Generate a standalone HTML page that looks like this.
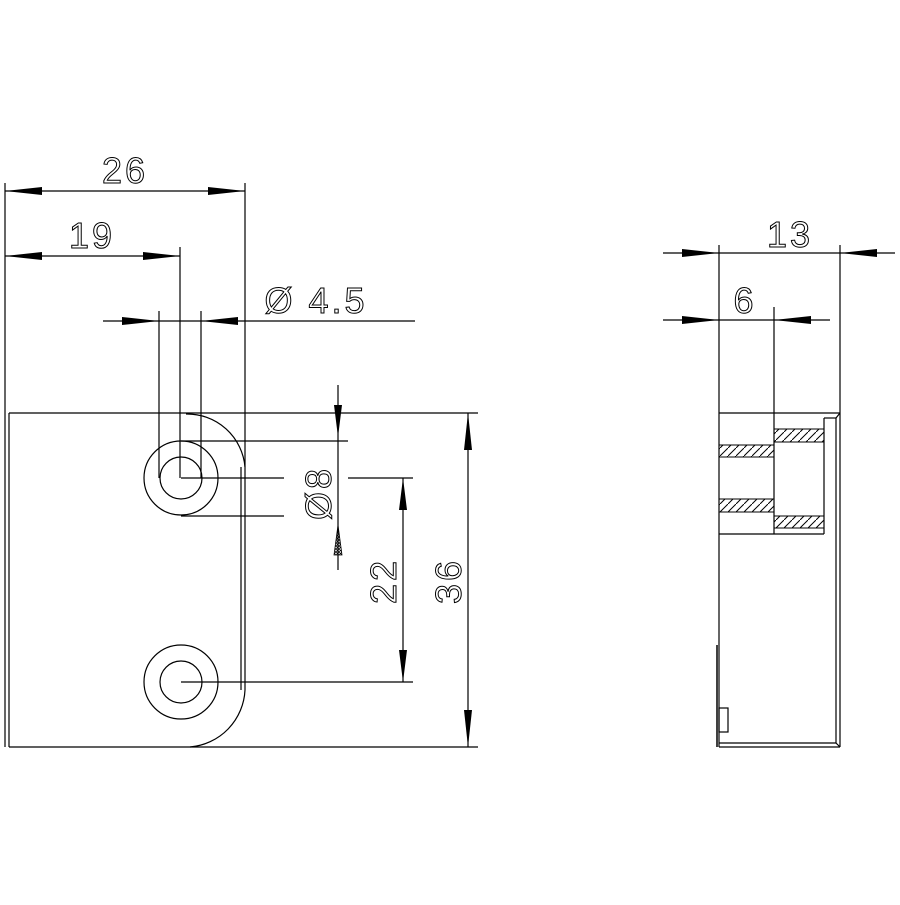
<!DOCTYPE html>
<html><head><meta charset="utf-8"><style>html,body{margin:0;padding:0;background:#fff}</style></head><body>
<svg width="900" height="900" viewBox="0 0 900 900" xmlns="http://www.w3.org/2000/svg">
<defs>
<pattern id="h" width="8" height="8" patternUnits="userSpaceOnUse"><path d="M0 8L8 0" stroke="#000" stroke-width="1"/></pattern>
<pattern id="x" width="3" height="3" patternUnits="userSpaceOnUse"><path d="M0 0L3 3M3 0L0 3" stroke="#000" stroke-width="0.7"/></pattern>
</defs>
<g fill="none" stroke="#000" stroke-width="1.2">
<line x1="5" y1="183" x2="5" y2="747"/>
<line x1="9" y1="413" x2="9" y2="747"/>
<line x1="9" y1="413" x2="478" y2="413"/>
<line x1="9" y1="747" x2="478" y2="747"/>
<line x1="245" y1="183" x2="245" y2="690"/>
<line x1="241" y1="467" x2="241" y2="690"/>
<path d="M186 414 A58 58 0 0 1 245 467"/>
<path d="M245 690 A60 60 0 0 1 190 747"/>
<circle cx="181" cy="478" r="37"/><circle cx="181" cy="478" r="21"/>
<circle cx="181" cy="682" r="37"/><circle cx="181" cy="682" r="21"/>
<line x1="5" y1="191" x2="245" y2="191"/>
<line x1="5" y1="256" x2="180" y2="256"/>
<line x1="180" y1="247" x2="180" y2="478"/>
<line x1="103" y1="321" x2="415" y2="321"/>
<line x1="159" y1="311" x2="159" y2="478"/>
<line x1="201" y1="311" x2="201" y2="478"/>
<line x1="338" y1="385" x2="338" y2="570"/>
<line x1="181" y1="441" x2="348" y2="441"/>
<line x1="181" y1="516" x2="284" y2="516"/>
<line x1="181" y1="478" x2="284" y2="478"/>
<line x1="348" y1="478" x2="413" y2="478"/>
<line x1="181" y1="682" x2="413" y2="682"/>
<line x1="403" y1="478" x2="403" y2="682"/>
<line x1="468" y1="413" x2="468" y2="747"/>
<line x1="719" y1="245" x2="719" y2="747"/>
<line x1="840" y1="245" x2="840" y2="747"/>
<line x1="836" y1="418" x2="836" y2="743"/>
<line x1="774" y1="307" x2="774" y2="534"/>
<line x1="663" y1="253" x2="895" y2="253"/>
<line x1="663" y1="320" x2="830" y2="320"/>
<line x1="719" y1="413" x2="840" y2="413"/>
<line x1="824" y1="418" x2="836" y2="418"/>
<line x1="824" y1="418" x2="824" y2="534"/>
<line x1="719" y1="534" x2="824" y2="534"/>
<line x1="719" y1="743" x2="836" y2="743"/>
<line x1="719" y1="747" x2="840" y2="747"/>
<line x1="836" y1="743" x2="840" y2="747"/>
<line x1="836" y1="418" x2="840" y2="413"/>
<rect x="719" y="708" width="9" height="24"/>
<line x1="717" y1="645" x2="717" y2="747" stroke-width="1.5"/>
</g>
<g stroke="#000" stroke-width="1">
<rect x="774" y="429" width="50" height="13" fill="url(#h)"/>
<rect x="719" y="445" width="55" height="12" fill="url(#h)"/>
<rect x="719" y="499" width="55" height="13" fill="url(#h)"/>
<rect x="774" y="516" width="50" height="12" fill="url(#h)"/>
</g>
<g fill="#000">
<polygon points="5,191 42,187 42,195"/>
<polygon points="245,191 208,187 208,195"/>
<polygon points="5,256 42,252 42,260"/>
<polygon points="180,256 143,252 143,260"/>
<polygon points="159,321 122,317 122,325"/>
<polygon points="201,321 238,317 238,325"/>
<polygon points="338,437 334,405 342,405"/>
<polygon points="403,478 399,510 407,510"/>
<polygon points="403,682 399,650 407,650"/>
<polygon points="468,413 464,450 472,450"/>
<polygon points="468,747 464,710 472,710"/>
<polygon points="719,253 682,249 682,257"/>
<polygon points="840,253 877,249 877,257"/>
<polygon points="719,320 682,316 682,324"/>
<polygon points="774,320 811,316 811,324"/>
</g>
<polygon points="338,525 334,555 342,555" fill="url(#x)" stroke="#000" stroke-width="0.8"/>
<g font-family="Liberation Sans, sans-serif" font-size="36" fill="none" stroke="#000" stroke-width="1" letter-spacing="3">
<text x="125" y="183" text-anchor="middle">26</text>
<text x="92" y="248" text-anchor="middle">19</text>
<text x="316" y="313" text-anchor="middle">Ø 4.5</text>
<text x="790" y="247" text-anchor="middle">13</text>
<text x="745" y="313" text-anchor="middle">6</text>
<text transform="translate(331,493) rotate(-90)" text-anchor="middle">Ø8</text>
<text transform="translate(396,581) rotate(-90)" text-anchor="middle">22</text>
<text transform="translate(461,581) rotate(-90)" text-anchor="middle">36</text>
</g>
</svg>
</body></html>
